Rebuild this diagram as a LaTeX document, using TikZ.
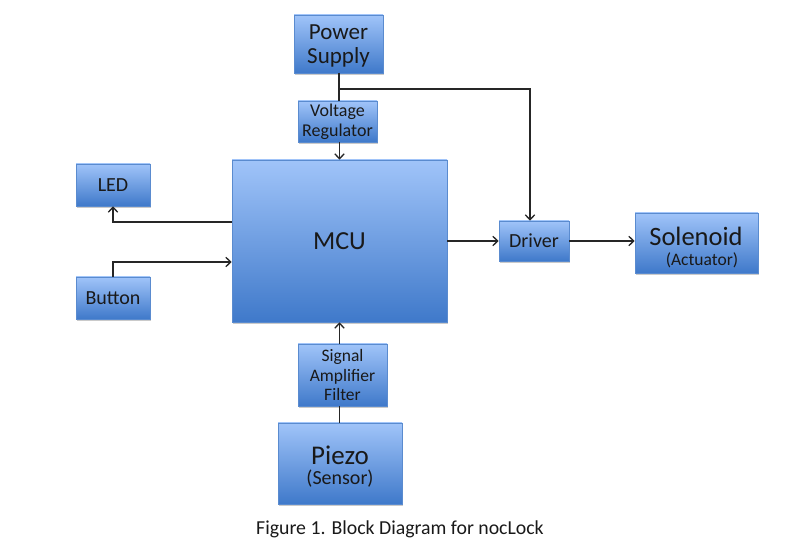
\documentclass[tikz,border=0pt]{standalone}
\usepackage{fontspec}
\setmainfont{Carlito}
\usetikzlibrary{arrows.meta,shadows,calc}
\definecolor{boxtop}{HTML}{A0C4F9}
\definecolor{boxbot}{HTML}{3F79CA}
\definecolor{boxline}{HTML}{5A8BCF}
\tikzset{
  blk/.style={draw=boxline, line width=0.6pt, top color=boxtop, bottom color=boxbot,
    inner sep=0pt, align=center, text=black!90,
    drop shadow={shadow xshift=0.8pt, shadow yshift=-1.8pt, opacity=0.35, fill=black!60}},
  con/.style={line width=1.2pt, draw=black!85},
  arr/.style={con, -{Straight Barb[length=5pt,width=9.5pt,line width=1.3pt]}},
  lbl/.style={text=black!90},
}
\begin{document}
\begin{tikzpicture}[x=1pt,y=-1pt]
\useasboundingbox (0,0) rectangle (807,553);
\node[blk, minimum width=89, minimum height=58] (ps) at (338.5,44) {};
\node[lbl, align=center, font=\fontsize{23}{24}\selectfont] (pst) at (338.5,46) {Power\\Supply};
\node[blk, minimum width=79, minimum height=41, font=\fontsize{18}{20}\selectfont] (vr) at (337.5,121.5) {Voltage\\Regulator};
\node[blk, minimum width=215, minimum height=162, font=\fontsize{26}{28}\selectfont] (mcu) at (339.5,241) {MCU};
\node[blk, minimum width=74, minimum height=42, font=\fontsize{20}{22}\selectfont] (led) at (113,185) {LED};
\node[blk, minimum width=74, minimum height=42, font=\fontsize{20}{22}\selectfont] (btn) at (113,298) {Button};
\node[blk, minimum width=70, minimum height=40, font=\fontsize{20}{22}\selectfont] (drv) at (534,241) {Driver};
\node[blk, minimum width=123, minimum height=60] (sol) at (696.5,243) {};
\node[lbl, font=\fontsize{26.5}{28}\selectfont] (solt) at (696,236) {Solenoid};
\node[lbl, font=\fontsize{17.5}{19}\selectfont] (sola) at (702,260) {(Actuator)};
\node[blk, minimum width=89, minimum height=62, font=\fontsize{17.5}{19.5}\selectfont] (saf) at (342.5,375) {Signal\\Amplifier\\Filter};
\node[blk, minimum width=124, minimum height=81] (pz) at (340,463.5) {};
\node[lbl, font=\fontsize{27}{29}\selectfont] (pzt) at (340,455) {Piezo};
\node[lbl, font=\fontsize{20}{22}\selectfont] (pzs) at (340,479) {(Sensor)};
\node[lbl, font=\fontsize{19.8}{22}\selectfont] (cap) at (400,529) {Figure 1. Block Diagram for nocLock};
\coordinate (j) at (339,89);
\draw[con] (339,73) -- (vr.north -| j);
\draw[arr] (j) -| ([xshift=-4pt]drv.north);
\draw[arr] (vr.south -| mcu.north) -- (mcu.north);
\draw[arr] (mcu.west |- 0,222) -| (led.south);
\draw[arr] (btn.north) |- (mcu.west |- 0,262);
\draw[arr] (mcu.east) -- (drv.west);
\draw[arr] (drv.east) -- (drv.east -| sol.west);
\draw[arr] (mcu.south |- saf.north) -- (mcu.south);
\draw[con] (pz.north -| mcu.south) -- (saf.south -| mcu.south);
\end{tikzpicture}
\end{document}
